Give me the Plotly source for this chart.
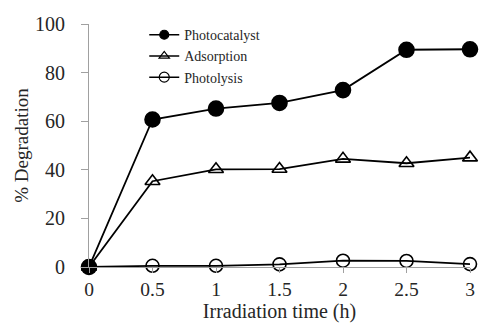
import plotly.graph_objects as go

time_h = [0, 0.5, 1, 1.5, 2, 2.5, 3]
photocatalyst = [0, 60.7, 65.2, 67.5, 72.8, 89.4, 89.6]
adsorption = [0, 35.3, 40.2, 40.3, 44.5, 42.7, 45.0]
photolysis = [0, 0.5, 0.5, 1.1, 2.6, 2.5, 1.2]

series = [
    ("Photocatalyst", photocatalyst, "circle", "black", 15, 9),
    ("Adsorption", adsorption, "triangle-up-open", "black", 13, 9),
    ("Photolysis", photolysis, "circle-open", "black", 13, 10),
]

fig = go.Figure()
for name, vals, sym, col, msize, lsize in series:
    fig.add_trace(go.Scatter(
        x=time_h, y=vals, mode="lines+markers", name=name, showlegend=False,
        line=dict(color="black", width=1.8),
        marker=dict(symbol=sym, size=msize, color=col, line=dict(color="black", width=1.6)),
        cliponaxis=False,
    ))
    fig.add_trace(go.Scatter(
        x=[None], y=[None], mode="lines+markers", name=name,
        line=dict(color="black", width=1.5),
        marker=dict(symbol=sym, size=lsize, color=col, line=dict(color="black", width=1.2)),
    ))

font_family = "Liberation Serif"
fig.update_layout(
    width=481, height=327,
    margin=dict(l=89, r=6, t=24, b=60),
    plot_bgcolor="white", paper_bgcolor="white",
    font=dict(family=font_family, size=19, color="#262626"),
    showlegend=True,
    legend=dict(x=0.145, y=1.02, xanchor="left", yanchor="top",
                font=dict(family=font_family, size=14, color="#262626"),
                bgcolor="rgba(0,0,0,0)", tracegroupgap=0, itemwidth=30),
    xaxis=dict(range=[0, 3], tickvals=time_h, ticktext=["0", "0.5", "1", "1.5", "2", "2.5", "3"],
               showgrid=False, zeroline=False, showline=True, linecolor="#a0a0a0", linewidth=1,
               ticks="outside", ticklen=5, tickcolor="#a0a0a0", tickfont=dict(size=19.5),
               title=dict(text="Irradiation time (h)", font=dict(size=20), standoff=0)),
    yaxis=dict(range=[0, 100], tickvals=[0, 20, 40, 60, 80, 100],
               showgrid=False, zeroline=False, showline=True, linecolor="#a0a0a0", linewidth=1,
               ticks="outside", ticklen=7, tickcolor="#a0a0a0", tickfont=dict(size=20),
               ticklabelstandoff=12,
               title=dict(text="% Degradation", font=dict(size=19), standoff=1)),
)

fig.write_html("out.html")
